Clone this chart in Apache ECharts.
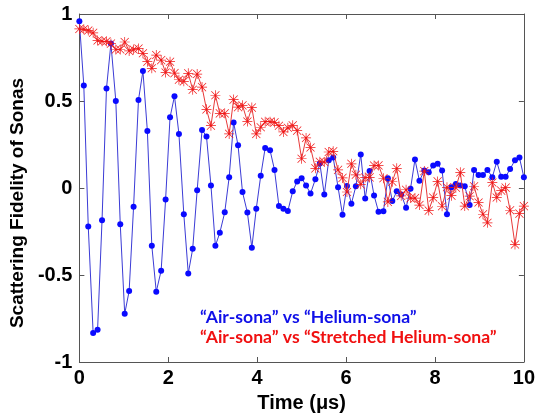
<!DOCTYPE html>
<html>
<head>
<meta charset="utf-8">
<script src="https://cdn.jsdelivr.net/npm/echarts@6/dist/echarts.min.js"></script>
<style>html,body{margin:0;padding:0;background:#fff;}#c{width:538px;height:418px;}</style>
</head>
<body>
<div id="c"></div>
<script>
// Sample times (µs), 99 samples from 0 to 10
const time = [0,0.10,0.20,0.31,0.41,0.51,0.61,0.71,0.82,0.92,
1.02,1.12,1.22,1.33,1.43,1.53,1.63,1.73,1.84,1.94,
2.04,2.14,2.24,2.35,2.45,2.55,2.65,2.76,2.86,2.96,
3.06,3.16,3.27,3.37,3.47,3.57,3.67,3.78,3.88,3.98,
4.08,4.18,4.29,4.39,4.49,4.59,4.69,4.80,4.90,5.00,
5.10,5.20,5.31,5.41,5.51,5.61,5.71,5.82,5.92,6.02,
6.12,6.22,6.33,6.43,6.53,6.63,6.73,6.84,6.94,7.04,
7.14,7.24,7.35,7.45,7.55,7.65,7.76,7.86,7.96,8.06,
8.16,8.27,8.37,8.47,8.57,8.67,8.78,8.88,8.98,9.08,
9.18,9.29,9.39,9.49,9.59,9.69,9.80,9.90,10.00];

// "Air-sona" vs "Helium-sona"
const heliumFidelity = [0.958,0.589,-0.221,-0.834,-0.815,-0.185,0.572,0.830,0.500,-0.209,
-0.723,-0.592,-0.108,0.506,0.672,0.328,-0.332,-0.596,-0.475,-0.066,
0.406,0.528,0.311,-0.151,-0.491,-0.349,-0.013,0.334,0.296,0.015,
-0.332,-0.257,-0.140,0.062,0.377,0.245,-0.023,-0.141,-0.343,-0.119,
0.070,0.230,0.217,0.104,-0.104,-0.119,-0.132,-0.019,0.038,0.056,
0.015,-0.032,0.051,0.141,-0.038,0.160,0.175,0.004,-0.154,0.011,
-0.090,0.010,0.192,-0.060,0.098,-0.043,-0.136,-0.134,0.056,-0.075,
-0.019,-0.038,-0.113,-0.004,0.164,0.041,0.100,0.090,0.130,0.140,
0.100,-0.151,0.004,0.023,0.015,0.010,-0.098,0.104,0.075,0.075,
0.104,0.062,0.151,0.064,0.064,0.109,0.160,0.175,0.062];

// "Air-sona" vs "Stretched Helium-sona"
const stretchedFidelity = [0.914,0.912,0.905,0.892,0.848,0.843,0.843,0.830,0.796,0.796,
0.839,0.788,0.796,0.802,0.774,0.726,0.688,0.764,0.735,0.664,
0.726,0.660,0.622,0.613,0.659,0.565,0.655,0.580,0.452,0.358,
0.533,0.429,0.429,0.311,0.508,0.465,0.475,0.382,0.462,0.311,
0.349,0.381,0.381,0.377,0.358,0.322,0.346,0.360,0.330,0.168,
0.288,0.233,0.113,0.151,0.149,0.207,0.211,0.104,0.058,-0.023,
0.139,0.076,0.021,0.060,0.061,0.129,0.130,0.056,-0.080,0.036,
0.113,-0.045,-0.010,-0.058,-0.058,-0.098,0.097,-0.130,-0.055,0.038,
-0.105,0.004,-0.044,0.002,0.090,-0.104,-0.047,0.010,-0.083,-0.151,
-0.200,0.032,-0.055,-0.015,0.002,-0.128,-0.325,-0.147,-0.104];

const legendLabels = ['\u201CAir-sona\u201D vs \u201CHelium-sona\u201D', '\u201CAir-sona\u201D vs \u201CStretched Helium-sona\u201D'];
const xTitle = 'Time (\u03BCs)';
const yTitle = 'Scattering Fidelity of Sonas';

const pairs = (vals) => vals.map((v, i) => [time[i], v]);
const asterisk = 'path://M9.3 0L10.7 0L10.7 20L9.3 20Z M0 9.3L20 9.3L20 10.7L0 10.7Z M2.4 1.4L18.6 17.6L17.6 18.6L1.4 2.4Z M17.6 1.4L18.6 2.4L2.4 18.6L1.4 17.6Z';
const axisColor = '#555';
const tickFont = {fontFamily: 'Liberation Sans, Arial, sans-serif', fontWeight: 'bold', fontSize: 20, color: '#000'};
const frameAxis = {
  axisLine: {show: true, onZero: false, lineStyle: {color: axisColor, width: 1}},
  axisTick: {show: true, inside: true, length: 5, lineStyle: {color: axisColor}},
  splitLine: {show: false}
};

const chart = echarts.init(document.getElementById('c'), null, {renderer: 'canvas'});
chart.setOption({
  animation: false,
  backgroundColor: '#fff',
  grid: {left: 74, right: 11, top: 14, bottom: 50},
  xAxis: [Object.assign({
    type: 'value', min: 0, max: 10, interval: 2, position: 'bottom',
    axisLabel: Object.assign({margin: 6}, tickFont),
    name: xTitle, nameLocation: 'middle', nameGap: 31,
    nameTextStyle: {fontFamily: 'Liberation Sans, Arial, sans-serif', fontWeight: 'bold', fontSize: 20, color: '#000'}
  }, frameAxis), Object.assign({
    type: 'value', min: 0, max: 10, interval: 2, position: 'top',
    axisLabel: {show: false}
  }, frameAxis)],
  yAxis: [Object.assign({
    type: 'value', min: -1, max: 1, interval: 0.5, position: 'left',
    axisLabel: Object.assign({margin: 7}, tickFont),
    name: yTitle, nameLocation: 'middle', nameGap: 50,
    nameTextStyle: {fontFamily: 'Liberation Sans, Arial, sans-serif', fontWeight: 'bold', fontSize: 19, color: '#000', padding: [0, 30, 0, 0]}
  }, frameAxis), Object.assign({
    type: 'value', min: -1, max: 1, interval: 0.5, position: 'right',
    axisLabel: {show: false}
  }, frameAxis)],
  series: [{
    name: legendLabels[0], type: 'line', xAxisIndex: 0, yAxisIndex: 0,
    data: pairs(heliumFidelity),
    symbol: 'circle', symbolSize: 6, showSymbol: true,
    lineStyle: {color: '#3b3bd6', width: 1},
    itemStyle: {color: '#0a0aff'},
    emphasis: {disabled: true}, z: 2
  }, {
    name: legendLabels[1], type: 'line', xAxisIndex: 0, yAxisIndex: 0,
    data: pairs(stretchedFidelity),
    symbol: asterisk, symbolSize: 10, showSymbol: true,
    lineStyle: {color: '#e83a3a', width: 1},
    itemStyle: {color: '#f01818'},
    emphasis: {disabled: true}, z: 3
  }],
  graphic: [{
    type: 'text', left: 200, top: 308,
    style: {text: legendLabels[0], fill: '#1010e8', font: 'bold 17.6px Lato, "Open Sans", sans-serif'}
  }, {
    type: 'text', left: 200, top: 328,
    style: {text: legendLabels[1], fill: '#f01010', font: 'bold 17.6px Lato, "Open Sans", sans-serif'}
  }]
});
</script>
</body>
</html>
